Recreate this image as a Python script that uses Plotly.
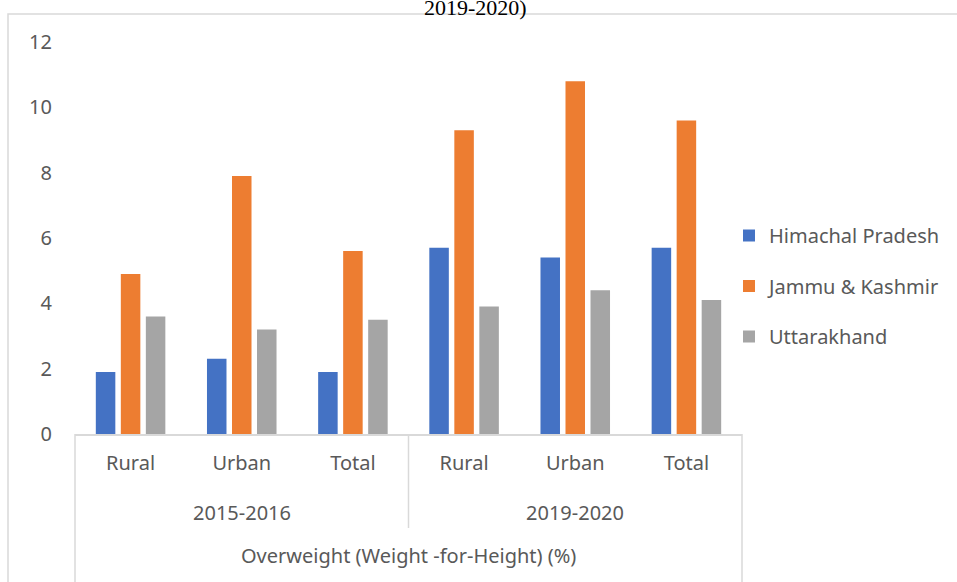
import plotly.graph_objects as go

periods = ["2015-2016", "2019-2020"]
areas = ["Rural", "Urban", "Total"]
states = ["Himachal Pradesh", "Jammu & Kashmir", "Uttarakhand"]
himachal = [1.9, 2.3, 1.9, 5.7, 5.4, 5.7]
jammu_kashmir = [4.9, 7.9, 5.6, 9.3, 10.8, 9.6]
uttarakhand = [3.6, 3.2, 3.5, 3.9, 4.4, 4.1]
colors = ["#4472C4", "#ED7D31", "#A5A5A5"]
group_title = "Overweight (Weight -for-Height) (%)"
chart_title_tail = "2019-2020)"

cats = [f"{p}|{a}" for p in periods for a in areas]
ticktext = [a for p in periods for a in areas]

FONT = "Noto Sans"
FS = 20
TXT = "#595959"
LINE = "#D9D9D9"

fig = go.Figure()
for name, vals, col in zip(states, [himachal, jammu_kashmir, uttarakhand], colors):
    fig.add_trace(go.Bar(x=cats, y=vals, name=name, marker=dict(color=col, line=dict(width=0)),
                         legendgroup=name))

W, H = 957, 582
L, R, T, B = 75, 957 - 742, 42, 582 - 434
pw, ph = W - L - R, H - T - B

def px_x(p):
    return (p - L) / pw

def px_y(p):
    return (H - B - p) / ph

shapes = [
    dict(type="rect", xref="paper", yref="paper", x0=px_x(8), y0=px_y(700), x1=px_x(1100), y1=px_y(14),
         line=dict(color=LINE, width=1.5), layer="below"),
    dict(type="line", xref="paper", yref="paper", x0=0, x1=0, y0=0, y1=px_y(700), line=dict(color=LINE, width=1.5)),
    dict(type="line", xref="paper", yref="paper", x0=1, x1=1, y0=0, y1=px_y(700), line=dict(color=LINE, width=1.5)),
    dict(type="line", xref="paper", yref="paper", x0=0.5, x1=0.5, y0=0, y1=px_y(528), line=dict(color=LINE, width=1.5)),
]

annotations = [
    dict(text=periods[0], x=0.25, y=px_y(512), xref="paper", yref="paper", showarrow=False,
         font=dict(family=FONT, size=FS, color=TXT), xanchor="center", yanchor="middle"),
    dict(text=periods[1], x=0.75, y=px_y(512), xref="paper", yref="paper", showarrow=False,
         font=dict(family=FONT, size=FS, color=TXT), xanchor="center", yanchor="middle"),
    dict(text=group_title, x=0.5, y=px_y(555), xref="paper", yref="paper", showarrow=False,
         font=dict(family=FONT, size=FS, color=TXT), xanchor="center", yanchor="middle"),
    dict(text=chart_title_tail, x=px_x(475), y=px_y(7), xref="paper", yref="paper", showarrow=False,
         font=dict(family="Liberation Serif", size=22, color="#000000"), xanchor="center", yanchor="middle"),
]

fig.update_layout(
    width=W, height=H,
    margin=dict(l=L, r=R, t=T, b=B, autoexpand=False),
    paper_bgcolor="white", plot_bgcolor="white",
    barmode="group", bargap=0.325, bargroupgap=0.22,
    font=dict(family=FONT, size=FS, color=TXT),
    showlegend=True,
    legend=dict(x=px_x(729), xanchor="left", y=px_y(216), yanchor="top",
                font=dict(family=FONT, size=FS, color=TXT), tracegroupgap=21.5,
                bgcolor="rgba(0,0,0,0)"),
    shapes=shapes,
    annotations=annotations,
    xaxis=dict(type="category", tickmode="array", tickvals=cats, ticktext=ticktext,
               showline=True, linecolor=LINE, linewidth=1.5, ticks="", showgrid=False,
               ticklabelstandoff=10, tickfont=dict(family=FONT, size=FS, color=TXT)),
    yaxis=dict(range=[0, 12], dtick=2, showgrid=False, zeroline=False, showline=False, ticks="",
               ticklabelstandoff=22, tickfont=dict(family=FONT, size=FS, color=TXT)),
)

fig.write_html("out.html", config={"displayModeBar": False},
               post_script="document.body.style.margin='0';document.body.style.overflow='hidden';")
